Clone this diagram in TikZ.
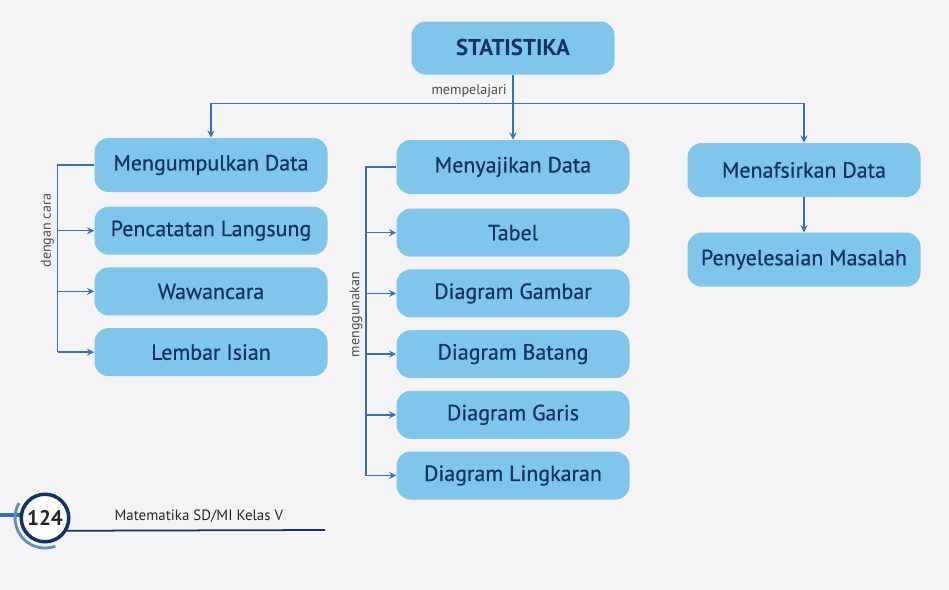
\documentclass[tikz,border=0pt]{standalone}
\usepackage{fontspec}
\setmainfont{PT Sans}
\newfontfamily\medfont{PT Sans}[FakeBold=0.6]
\usetikzlibrary{shapes.geometric, arrows, positioning, calc}
\definecolor{pagegray}{RGB}{244,243,246}
\definecolor{boxblue}{RGB}{128,198,234}
\definecolor{lineblue}{RGB}{52,112,180}
\definecolor{navy}{RGB}{22,50,96}
\tikzstyle{arrow} = [thick,->,>=stealth,draw=lineblue]
\tikzstyle{line} = [thick,draw=lineblue]
\tikzstyle{title} = [rectangle, rounded corners=8pt, minimum width=4.06cm, minimum height=1.06cm, text centered, fill=boxblue, text=navy, font=\bfseries\fontsize{13}{15}\selectfont]
\tikzstyle{process} = [rectangle, rounded corners=8pt, minimum width=4.66cm, minimum height=0.96cm, text centered, fill=boxblue, text=navy, font=\medfont\fontsize{12.5}{14}\selectfont]
\tikzstyle{head} = [process, minimum height=1.08cm]
\tikzstyle{note} = [font=\fontsize{8}{9}\selectfont, text=black!70, inner sep=2pt]

\begin{document}
\begin{tikzpicture}[node distance=0.24cm]
        \fill [pagegray] (0,0) rectangle (18.98,-11.8);
        \useasboundingbox (0,0) rectangle (18.98,-11.8);

        \node (stat) [title] at (10.26,-0.96) {STATISTIKA};

        \node (kumpul) [head] at (4.22,-3.3) {Mengumpulkan Data};
        \node (catat) [process, below=0.28cm of kumpul] {Pencatatan Langsung};
        \node (wawan) [process, below=of catat] {Wawancara};
        \node (isian) [process, below=of wawan] {Lembar Isian};

        \node (saji) [head] at (10.26,-3.34) {Menyajikan Data};
        \node (tabel) [process, below=0.28cm of saji] {Tabel};
        \node (gambar) [process, below=of tabel] {Diagram Gambar};
        \node (batang) [process, below=of gambar] {Diagram Batang};
        \node (garis) [process, below=of batang] {Diagram Garis};
        \node (lingkar) [process, below=of garis] {Diagram Lingkaran};

        \node (tafsir) [head] at (16.08,-3.4) {Menafsirkan Data};
        \node (masalah) [head, below=0.7cm of tafsir] {Penyelesaian Masalah};

        % mempelajari
        \coordinate (bus) at ($(stat.south)+(0,-0.57)$);
        \draw [line] (kumpul |- bus) -- (tafsir |- bus);
        \draw [arrow] (stat) -- (saji);
        \draw [arrow] (kumpul |- bus) -- (kumpul);
        \draw [arrow] (tafsir |- bus) -- (tafsir);
        \draw [arrow] (tafsir) -- (masalah);
        \node (ajar) [note, anchor=south east] at ($(bus)+(-0.05,0.04)$) {mempelajari};

        % dengan cara
        \coordinate (lbar) at ($(kumpul.west)+(-0.73,0)$);
        \draw [line] (kumpul.west) -- (lbar) -- (lbar |- isian);
        \foreach \n in {catat, wawan, isian}
            \draw [arrow] (lbar |- \n) -- (\n);
        \node (cara) [note, rotate=90, anchor=south] at (lbar |- catat) {dengan cara};

        % menggunakan
        \coordinate (mbar) at ($(saji.west)+(-0.6,0)$);
        \draw [line] (saji.west) -- (mbar) -- (mbar |- lingkar);
        \foreach \n in {tabel, gambar, batang, garis, lingkar}
            \draw [arrow] (mbar |- \n) -- (\n);
        \node (guna) [note, rotate=90, anchor=south] at ($(mbar |- gambar)!0.35!(mbar |- batang)$) {menggunakan};

        % footer
        \draw [lineblue, line width=2pt] (0,-10.3) -- (0.5,-10.3);
        \draw [lineblue!80, line width=1.6pt] ([shift={(150:0.6)}]0.9,-10.36) arc (150:290:0.6);
        \node (page) [circle, draw=navy, line width=2pt, fill=white, minimum size=0.95cm, inner sep=0pt, font=\bfseries\fontsize{12}{14}\selectfont, text=black!85] at (0.9,-10.36) {124};
        \draw [navy, line width=1pt] (page.-30) -- (6.5,-10.6);
        \node (book) [font=\fontsize{8.5}{10}\selectfont, text=black!85, anchor=south west, inner sep=1pt] at (2.25,-10.5) {Matematika SD/MI Kelas V};
    \end{tikzpicture}
\end{document}
